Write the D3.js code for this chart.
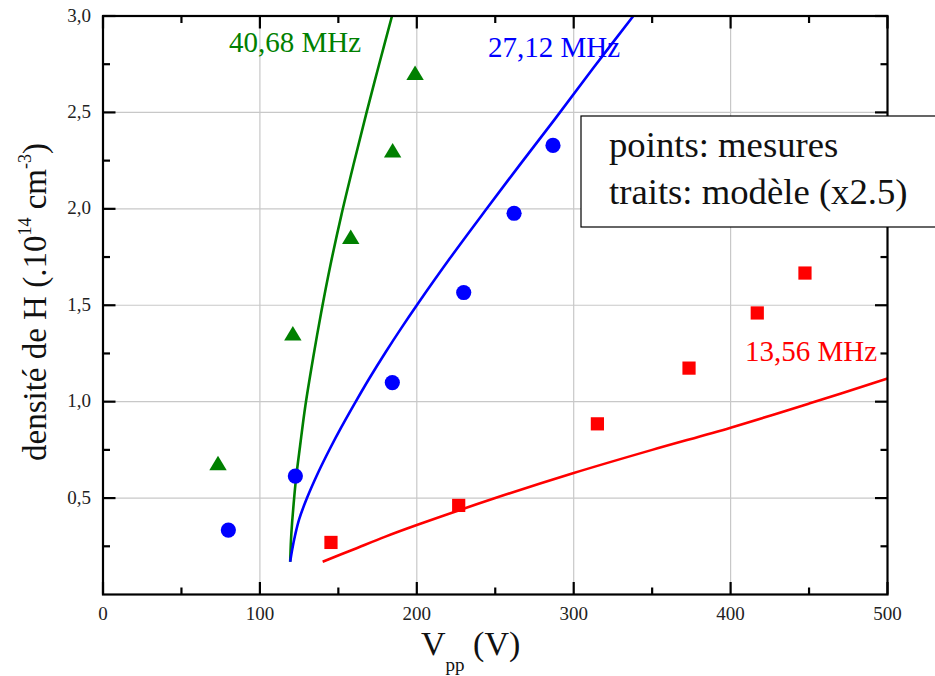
<!DOCTYPE html>
<html><head><meta charset="utf-8">
<script src="https://cdn.jsdelivr.net/npm/d3@7"></script>
<style>body{margin:0;background:#fff}svg{display:block}text{font-family:'Liberation Serif','Times New Roman',serif}</style>
</head><body>
<script>
// ---- data ----
const xTicks = [0, 100, 200, 300, 400, 500];
const xTickLabels = ["0", "100", "200", "300", "400", "500"];
const yTicks = [0.5, 1.0, 1.5, 2.0, 2.5, 3.0];
const yTickLabels = ["0,5", "1,0", "1,5", "2,0", "2,5", "3,0"];

// measured points
const v40 = [73.3, 121, 157.9, 184.6, 198.9];
const n40 = [0.681, 1.353, 1.854, 2.303, 2.704];
const v27 = [79.9, 122.6, 184.4, 229.9, 262, 286.8];
const n27 = [0.334, 0.614, 1.099, 1.566, 1.977, 2.329];
const v13 = [145.3, 226.7, 315.1, 373.5, 417, 447.4];
const n13 = [0.27, 0.462, 0.885, 1.174, 1.46, 1.667];

// model curves (x2.5)
const mv40 = [119.3, 119.8, 120.5, 121.5, 123, 125.6, 129, 134, 139, 145, 152, 160, 168, 176, 184.2];
const mn40 = [0.17, 0.28, 0.37, 0.47, 0.6, 0.77, 0.98, 1.23, 1.46, 1.71, 1.97, 2.24, 2.5, 2.75, 3.0];
const mv27 = [119.3, 120.5, 122.5, 125, 130, 137, 144.7, 152, 161, 170, 180, 190, 200, 221, 244.5, 266, 288, 312, 338];
const mn27 = [0.17, 0.23, 0.31, 0.39, 0.5, 0.63, 0.757, 0.869, 0.999, 1.124, 1.255, 1.38, 1.5, 1.742, 2.0, 2.232, 2.465, 2.725, 3.0];
const mv13 = [140, 160, 180, 200, 250, 300, 350, 400, 450, 500];
const mn13 = [0.17, 0.235, 0.3, 0.36, 0.5, 0.63, 0.75, 0.865, 0.99, 1.12];

const seriesNames = ["40,68 MHz", "27,12 MHz", "13,56 MHz"];
const seriesColors = ["#008000", "#0000ff", "#ff0000"];
const labelV = [80.3, 245.4, 409.2];
const labelN = [2.813, 2.785, 1.21];

const legendLines = ["points: mesures", "traits: modèle (x2.5)"];

// ---- layout ----
const W = 935, H = 676;
const L = 103, R = 887.5, T = 16, B = 594.5;
const x = d3.scaleLinear().domain([0, 500]).range([L, R]);
const y = d3.scaleLinear().domain([0, 3]).range([B, T]);
const FONT = "Liberation Serif";

const svg = d3.select("body").append("svg").attr("width", W).attr("height", H);

// grid
const grid = svg.append("g").attr("stroke", "#c8c8c8").attr("stroke-width", 1.2);
xTicks.filter(t => t > 0 && t < 500).forEach(t => {
  grid.append("line").attr("x1", x(t)).attr("x2", x(t)).attr("y1", T).attr("y2", B);
});
yTicks.filter(t => t < 3).forEach(t => {
  grid.append("line").attr("x1", L).attr("x2", R).attr("y1", y(t)).attr("y2", y(t));
});

// clip
svg.append("clipPath").attr("id", "clip").append("rect")
  .attr("x", L).attr("y", T).attr("width", R - L).attr("height", B - T);

// model curves
const line = d3.line().x(d => x(d[0])).y(d => y(d[1])).curve(d3.curveCatmullRom.alpha(0.5));
const models = [d3.zip(mv40, mn40), d3.zip(mv27, mn27), d3.zip(mv13, mn13)];
models.forEach((m, i) => {
  svg.append("path").attr("d", line(m)).attr("fill", "none")
    .attr("stroke", seriesColors[i]).attr("stroke-width", 2.6)
    .attr("stroke-linejoin", "round")
    .attr("clip-path", "url(#clip)");
});

// measured points
const g = svg.append("g");
d3.zip(v40, n40).forEach(([a, b]) => {
  const cx = x(a), cy = y(b);
  g.append("path").attr("d", `M${cx},${cy - 7.5}L${cx + 8.7},${cy + 7}L${cx - 8.7},${cy + 7}Z`)
    .attr("fill", seriesColors[0]);
});
d3.zip(v27, n27).forEach(([a, b]) => {
  g.append("circle").attr("cx", x(a)).attr("cy", y(b)).attr("r", 7.6).attr("fill", seriesColors[1]);
});
d3.zip(v13, n13).forEach(([a, b]) => {
  g.append("rect").attr("x", x(a) - 6.6).attr("y", y(b) - 6.6).attr("width", 13.2).attr("height", 13.2)
    .attr("fill", seriesColors[2]);
});

// series labels
seriesNames.forEach((s, i) => {
  svg.append("text").attr("x", x(labelV[i])).attr("y", y(labelN[i]))
    .attr("font-family", FONT)
    .attr("fill", seriesColors[i]).attr("font-size", 29).text(s);
});

// axes frame + ticks
const ax = svg.append("g").attr("stroke", "#000").attr("stroke-width", 2.2);
const xMinor = d3.range(50, 500, 100);
const yMinor = d3.range(0.25, 3, 0.5);
xTicks.forEach(t => {
  ax.append("line").attr("x1", x(t)).attr("x2", x(t)).attr("y1", B).attr("y2", B - 12.5);
  ax.append("line").attr("x1", x(t)).attr("x2", x(t)).attr("y1", T).attr("y2", T + 12.5);
});
xMinor.forEach(t => {
  ax.append("line").attr("x1", x(t)).attr("x2", x(t)).attr("y1", B).attr("y2", B - 7);
  ax.append("line").attr("x1", x(t)).attr("x2", x(t)).attr("y1", T).attr("y2", T + 7);
});
yTicks.forEach(t => {
  ax.append("line").attr("x1", L).attr("x2", L + 12.5).attr("y1", y(t)).attr("y2", y(t));
  ax.append("line").attr("x1", R).attr("x2", R - 12.5).attr("y1", y(t)).attr("y2", y(t));
});
yMinor.forEach(t => {
  ax.append("line").attr("x1", L).attr("x2", L + 7).attr("y1", y(t)).attr("y2", y(t));
  ax.append("line").attr("x1", R).attr("x2", R - 7).attr("y1", y(t)).attr("y2", y(t));
});
ax.append("rect").attr("x", L).attr("y", T).attr("width", R - L).attr("height", B - T)
  .attr("fill", "none");

// tick labels
xTicks.forEach((t, i) => {
  svg.append("text").attr("x", x(t)).attr("y", B + 25).attr("text-anchor", "middle")
    .attr("font-family", FONT)
    .attr("font-size", 19).attr("fill", "#222").text(xTickLabels[i]);
});
yTicks.forEach((t, i) => {
  svg.append("text").attr("x", L - 12).attr("y", y(t) + 5.5).attr("text-anchor", "end")
    .attr("font-family", FONT)
    .attr("font-size", 19).attr("fill", "#222").text(yTickLabels[i]);
});

// legend box
svg.append("rect").attr("x", 581).attr("y", 116).attr("width", 380).attr("height", 111)
  .attr("fill", "#fff").attr("stroke", "#000").attr("stroke-width", 1.2);
legendLines.forEach((s, i) => {
  svg.append("text").attr("x", 609).attr("y", 157 + i * 46.5).attr("font-size", 36.7)
    .attr("font-family", FONT)
    .attr("fill", "#111").text(s);
});

// x axis title
const xt = svg.append("text").attr("x", 421).attr("y", 655).attr("font-size", 34)
  .attr("font-family", FONT).attr("fill", "#111");
xt.append("tspan").text("V");
xt.append("tspan").attr("font-size", 19).attr("dy", 16).text("pp");
xt.append("tspan").attr("dy", -16).text(" (V)");

// y axis title
const yt = svg.append("text").attr("transform", "translate(46,461) rotate(-90)")
  .attr("font-family", FONT)
  .attr("font-size", 33).attr("fill", "#111");
yt.append("tspan").text("densité de H (.10");
yt.append("tspan").attr("font-size", 18).attr("dy", -15).text("14");
yt.append("tspan").attr("dy", 15).text(" cm");
yt.append("tspan").attr("font-size", 18).attr("dy", -15).text("-3");
yt.append("tspan").attr("dy", 15).text(")");
</script>
</body></html>
